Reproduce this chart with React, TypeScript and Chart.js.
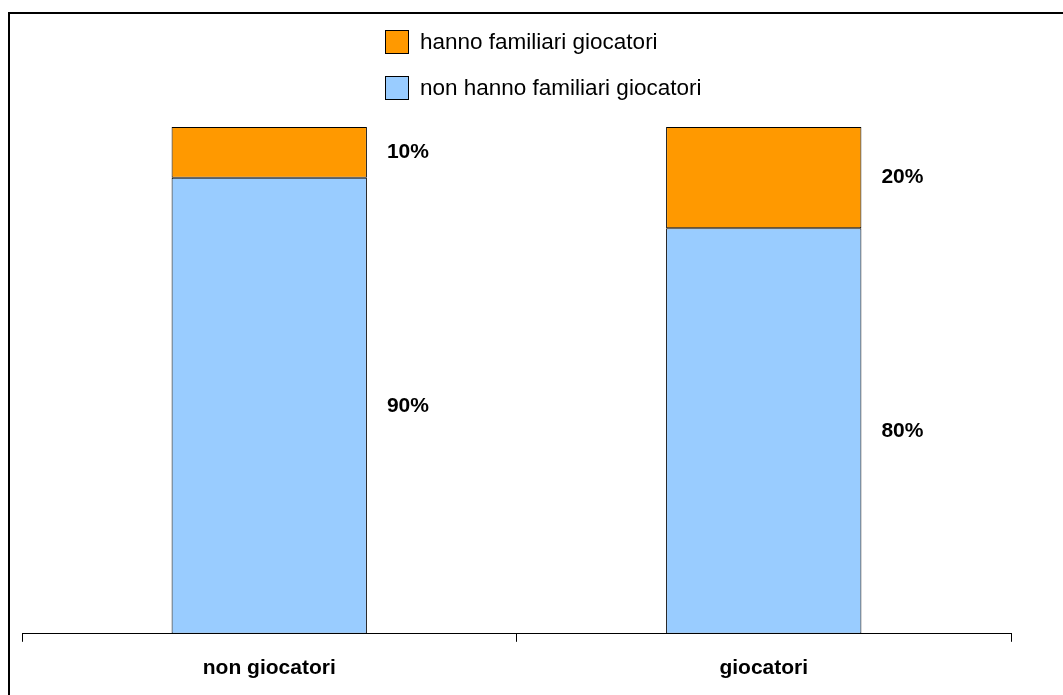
import React, { useEffect, useRef } from "react";
import { Chart, registerables } from "chart.js";

Chart.register(...registerables);

const categories = ["non giocatori", "giocatori"];
const seriesNames = ["non hanno familiari giocatori", "hanno familiari giocatori"];
const nonFamiliari = [90, 80];
const familiari = [10, 20];
const colors = ["#99CCFF", "#FF9900"];

const FONT = "'Liberation Sans', Arial, Helvetica, sans-serif";

const framePlugin = {
  id: "frame",
  beforeDraw(chart: any) {
    const ctx = chart.ctx;
    ctx.save();
    ctx.fillStyle = "#ffffff";
    ctx.fillRect(0, 0, chart.width, chart.height);
    ctx.strokeStyle = "#000";
    ctx.lineWidth = 2;
    ctx.beginPath();
    ctx.moveTo(9, chart.height);
    ctx.lineTo(9, 13);
    ctx.lineTo(chart.width, 13);
    ctx.stroke();
    ctx.restore();
  },
};

const labelPlugin = {
  id: "segLabels",
  afterDatasetsDraw(chart: any) {
    const ctx = chart.ctx;
    ctx.save();
    ctx.font = `bold 21px ${FONT}`;
    ctx.fillStyle = "#000";
    ctx.textAlign = "left";
    ctx.textBaseline = "middle";
    chart.data.datasets.forEach((ds: any, di: number) => {
      const meta = chart.getDatasetMeta(di);
      meta.data.forEach((el: any, i: number) => {
        const p = el.getProps(["x", "y", "base", "width"], true);
        const cy = (p.y + p.base) / 2;
        ctx.fillText(`${ds.data[i]}%`, p.x + p.width / 2 + 20, cy);
      });
    });
    ctx.restore();
  },
};

const legendPlugin = {
  id: "customLegend",
  afterDraw(chart: any) {
    const ctx = chart.ctx;
    ctx.save();
    const items = [
      { text: seriesNames[1], color: colors[1] },
      { text: seriesNames[0], color: colors[0] },
    ];
    const x = 385;
    const y0 = 30;
    const gap = 46;
    const size = 24;
    ctx.font = `22.5px ${FONT}`;
    ctx.textBaseline = "middle";
    ctx.textAlign = "left";
    items.forEach((it, i) => {
      const y = y0 + i * gap;
      ctx.fillStyle = it.color;
      ctx.fillRect(x, y, size, size);
      ctx.strokeStyle = "#000";
      ctx.lineWidth = 1;
      ctx.strokeRect(x + 0.5, y + 0.5, size - 1, size - 1);
      ctx.fillStyle = "#000";
      ctx.fillText(it.text, x + size + 11, y + size / 2 + 1);
    });
    ctx.restore();
  },
};

export default function App() {
  const ref = useRef<HTMLCanvasElement>(null);
  useEffect(() => {
    if (!ref.current) return;
    const chart = new Chart(ref.current, {
      type: "bar",
      data: {
        labels: categories,
        datasets: [
          {
            label: seriesNames[0],
            data: nonFamiliari,
            backgroundColor: colors[0],
            borderColor: "#000",
            borderWidth: 1,
            borderSkipped: false,
            barPercentage: 0.395,
            categoryPercentage: 1,
          },
          {
            label: seriesNames[1],
            data: familiari,
            backgroundColor: colors[1],
            borderColor: "#000",
            borderWidth: 1,
            borderSkipped: false,
            barPercentage: 0.395,
            categoryPercentage: 1,
          },
        ],
      },
      options: {
        animation: false,
        responsive: false,
        maintainAspectRatio: false,
        layout: { padding: { left: 22, right: 52, top: 127, bottom: 0 } },
        plugins: {
          legend: { display: false },
          tooltip: { enabled: false },
          title: { display: false },
        },
        scales: {
          x: {
            stacked: true,
            grid: {
              display: true,
              drawOnChartArea: false,
              drawTicks: true,
              tickLength: 8,
              color: "#000",
              offset: true,
            },
            border: { display: true, color: "#000", width: 1 },
            ticks: {
              color: "#000",
              font: { family: FONT, size: 21, weight: "bold" },
              padding: 14,
              maxRotation: 0,
            },
          },
          y: {
            stacked: true,
            display: false,
            min: 0,
            max: 100,
          },
        },
      },
      plugins: [framePlugin, labelPlugin, legendPlugin],
    });
    return () => chart.destroy();
  }, []);
  return (
    <div style={{ position: "absolute", left: 0, top: 0, width: 1063, height: 695, background: "#fff" }}>
      <canvas ref={ref} width={1063} height={695} style={{ display: "block" }} />
    </div>
  );
}
